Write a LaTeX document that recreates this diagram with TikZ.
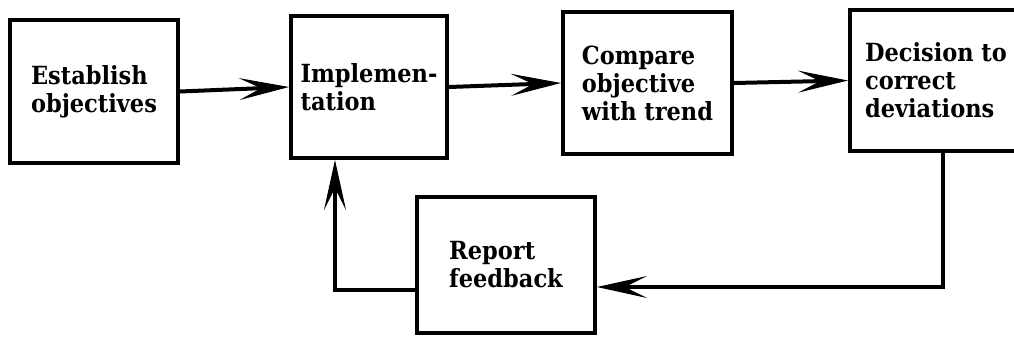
\documentclass[tikz,border=0pt]{standalone}
\usepackage{fontspec}
\setmainfont{DejaVu Serif Condensed}
\usetikzlibrary{arrows.meta,calc}
\begin{document}
\begin{tikzpicture}[x=1bp,y=-1bp,
  box/.style={draw,line width=4bp,align=left,inner sep=0pt,font=\fontsize{25bp}{28bp}\selectfont\bfseries},
  arr/.style={line width=4bp,-{Stealth[length=50bp,width=22bp,inset=22bp,line width=1bp]}}]
\useasboundingbox (0,0) rectangle (1014,338);
\node[box,minimum width=168bp,minimum height=143bp] (b1) at (94,91.5) {Establish\\objectives};
\node[box,minimum width=156bp,minimum height=142bp] (b2) at (369,87) {Implemen-\\tation};
\node[box,minimum width=169bp,minimum height=142bp] (b3) at (647.5,83) {Compare\\objective\\with trend};
\node[box,minimum width=172bp,minimum height=141bp] (b4) at (936,80.5) {Decision to\\correct\\deviations};
\node[box,minimum width=178bp,minimum height=136bp] (b5) at (506,265) {Report\\feedback};
\draw[arr] (b1.east) -- (b2.west);
\draw[arr] (b2.east) -- (b3.west);
\draw[arr] (b3.east) -- (b4.west);
\draw[arr] ($(b4.south)+(7,0)$) |- ($(b5.east)+(0,22)$);
\draw[arr] ($(b5.west)+(0,25)$) -| ($(b2.south)+(-34,0)$);
\end{tikzpicture}
\end{document}
